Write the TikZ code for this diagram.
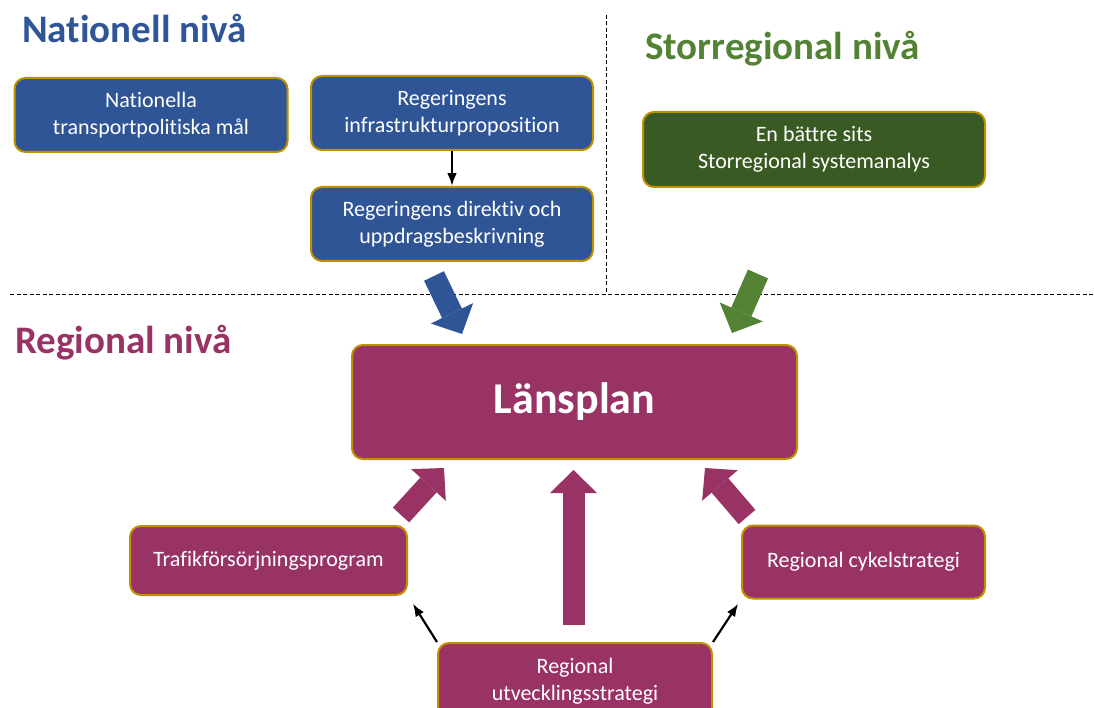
\documentclass[tikz,border=0pt]{standalone}
\usepackage{fontspec}
\setmainfont{Carlito}[Ligatures=NoCommon]
\usepackage{xcolor}
\usetikzlibrary{arrows.meta,calc,positioning}

\definecolor{natblue}{HTML}{2F5597}
\definecolor{stgreen}{HTML}{548235}
\definecolor{stdark}{HTML}{3A5A24}
\definecolor{regpurple}{HTML}{993366}
\definecolor{boxrim}{HTML}{BF9000}

\begin{document}
\begin{tikzpicture}[x=1pt,y=-1pt,>=Latex,
  box/.style={draw=boxrim,line width=2pt,rounded corners=11pt,text=white,align=center,
    inner sep=0pt,font=\fontsize{22}{27}\selectfont},
  level/.style={font=\fontsize{39}{42}\selectfont\bfseries,anchor=base west,inner sep=0pt},
  fatarrow/.style={line width=22pt,-{Triangle[length=23pt,width=47pt,line width=0pt]}}]
  \useasboundingbox (0,0) rectangle (1094,708);
  \clip (0,0) rectangle (1094,708);
  \draw[dash pattern=on 4pt off 2.5pt,line width=0.9pt] (10,294) -- (1094,294);
  \draw[dash pattern=on 4pt off 2.5pt,line width=0.9pt] (606,15) -- (606,294);

  \node[level,text=natblue] (nattitle) at (22,43) {Nationell nivå};
  \node[level,text=stgreen] (sttitle) at (645,60) {Storregional nivå};
  \node[level,text=regpurple] (regtitle) at (15,353) {Regional nivå};

  \node[box,fill=natblue,minimum width=273pt,minimum height=74pt] (natmal) at (151,115) {Nationella\\transportpolitiska mål};
  \node[box,fill=natblue,minimum width=282pt,minimum height=74pt] (infra) at (452,113) {Regeringens\\infrastrukturproposition};
  \node[box,fill=natblue,minimum width=282pt,minimum height=74pt,below=35pt of infra] (direktiv) {Regeringens direktiv och\\uppdragsbeskrivning};
  \node[box,fill=stdark,minimum width=342pt,minimum height=75pt] (sits) at (814,149.5) {En bättre sits\\Storregional systemanalys};

  \node[box,fill=regpurple,minimum width=445pt,minimum height=114pt,font=\fontsize{44}{46}\selectfont\bfseries] (lans) at (574.5,402) {Länsplan};
  \node[box,fill=regpurple,minimum width=277pt,minimum height=69pt] (trafik) at (268.5,560.5) {Trafikförsörjningsprogram};
  \node[box,fill=regpurple,minimum width=243pt,minimum height=73pt] (cykel) at (863.5,562) {Regional cykelstrategi};
  \node[box,fill=regpurple,minimum width=274pt,minimum height=76pt,anchor=north] (ruts) at (575,642) {Regional\\utvecklingsstrategi};

  \coordinate (natS) at (434,276);
  \coordinate (natE) at (462,334);
  \coordinate (stS) at (758,274);
  \coordinate (stE) at (732,333);
  \coordinate (trS) at (401,515);
  \coordinate (trE) at (444,468);
  \coordinate (ruS) at (573.5,625);
  \coordinate (ruE) at (573.5,470);
  \coordinate (cyS) at (747,517);
  \coordinate (cyE) at (705,468);
  \draw[fatarrow,natblue] (natS) -- (natE);
  \draw[fatarrow,stgreen] (stS) -- (stE);
  \draw[fatarrow,regpurple] (trS) -- (trE);
  \draw[fatarrow,regpurple] (ruS) -- (ruE);
  \draw[fatarrow,regpurple] (cyS) -- (cyE);

  \draw[->,line width=2.2pt] (infra) -- (direktiv);
  \draw[->,line width=2.2pt,shorten >=9pt] (ruts.north west) -- (trafik.south east);
  \draw[->,line width=2.2pt,shorten >=5pt] (ruts.north east) -- (cykel.south west);
\end{tikzpicture}
\end{document}
